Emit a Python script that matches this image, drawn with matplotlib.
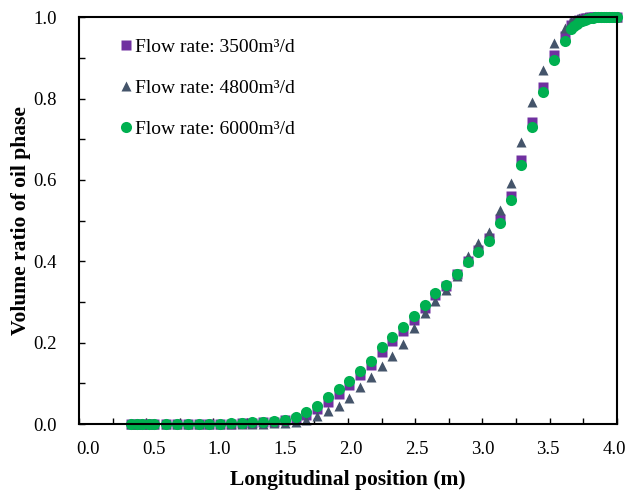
import matplotlib
matplotlib.use("Agg")
import matplotlib.pyplot as plt
from matplotlib.ticker import MultipleLocator, FormatStrFormatter
from matplotlib.transforms import ScaledTranslation

plt.rcParams['font.family'] = ['Liberation Serif', 'DejaVu Serif']

# Posição longitudinal (m)
posicao = [0.39, 0.43, 0.47, 0.52, 0.56,
           0.65, 0.73, 0.81, 0.89, 0.97, 1.05, 1.13, 1.21, 1.29, 1.37,
           1.45, 1.53, 1.61, 1.69, 1.77, 1.85, 1.93, 2.01, 2.09, 2.17,
           2.25, 2.33, 2.41, 2.49, 2.57, 2.65, 2.73, 2.81, 2.89, 2.97,
           3.05, 3.13, 3.21, 3.29, 3.37, 3.45, 3.53, 3.61,
           3.66, 3.68, 3.70, 3.72, 3.74, 3.76, 3.78, 3.80, 3.82, 3.84,
           3.86, 3.88, 3.90, 3.92, 3.94, 3.96, 3.98, 4.00]

# Fração volumétrica de óleo para cada vazão
vazao_3500 = [0, 0, 0, 0, 0,
              0, 0, 0, 0, 0, 0.001, 0.001, 0.002, 0.003, 0.004,
              0.006, 0.009, 0.013, 0.022, 0.036, 0.055, 0.075, 0.097, 0.120, 0.146,
              0.178, 0.204, 0.229, 0.257, 0.286, 0.317, 0.340, 0.369, 0.401, 0.428,
              0.457, 0.503, 0.561, 0.649, 0.743, 0.829, 0.907, 0.955,
              0.982, 0.987, 0.991, 0.994, 0.996, 0.998, 0.999, 1.0, 1.0, 1.0,
              1.0, 1.0, 1.0, 1.0, 1.0, 1.0, 1.0, 1.0]
vazao_4800 = [0, 0, 0, 0, 0,
              0, 0, 0, 0, 0, 0, 0, 0.001, 0.001, 0.001,
              0.002, 0.003, 0.005, 0.010, 0.020, 0.032, 0.045, 0.064, 0.090, 0.116,
              0.142, 0.168, 0.197, 0.236, 0.272, 0.303, 0.329, 0.365, 0.413, 0.445,
              0.473, 0.526, 0.592, 0.693, 0.791, 0.870, 0.936, 0.973,
              0.990, 0.994, 0.996, 0.998, 0.999, 1.0, 1.0, 1.0, 1.0, 1.0,
              1.0, 1.0, 1.0, 1.0, 1.0, 1.0, 1.0, 1.0]
vazao_6000 = [0, 0, 0, 0, 0,
              0, 0, 0, 0, 0.001, 0.001, 0.002, 0.003, 0.004, 0.006,
              0.008, 0.011, 0.017, 0.029, 0.044, 0.066, 0.086, 0.106, 0.130, 0.155,
              0.189, 0.214, 0.238, 0.265, 0.292, 0.322, 0.342, 0.369, 0.398, 0.423,
              0.450, 0.494, 0.550, 0.636, 0.730, 0.816, 0.894, 0.941,
              0.972, 0.979, 0.984, 0.988, 0.991, 0.994, 0.996, 0.998, 0.999, 1.0,
              1.0, 1.0, 1.0, 1.0, 1.0, 1.0, 1.0, 1.0]

fig = plt.figure(figsize=(6.27, 4.92), dpi=100)
ax = fig.add_axes([0.126, 0.138, 0.858, 0.827])

ax.plot(posicao, vazao_3500, 's', color='#7030A0', ms=7.2, mec='none',
        clip_on=False, label='Flow rate: 3500m³/d')
ax.plot(posicao, vazao_4800, '^', color='#44546A', ms=7.5, mec='none',
        clip_on=False, label='Flow rate: 4800m³/d')
ax.plot(posicao, vazao_6000, 'o', color='#00B050', ms=8, mec='none',
        clip_on=False, label='Flow rate: 6000m³/d')

ax.set_xlim(0, 4.0)
ax.set_ylim(0, 1.0)
ax.xaxis.set_major_locator(MultipleLocator(0.5))
ax.xaxis.set_minor_locator(MultipleLocator(0.25))
ax.yaxis.set_major_locator(MultipleLocator(0.2))
ax.yaxis.set_minor_locator(MultipleLocator(0.1))
ax.xaxis.set_major_formatter(FormatStrFormatter('%.1f'))
ax.yaxis.set_major_formatter(FormatStrFormatter('%.1f'))

ax.tick_params(which='both', direction='in', length=4.5, width=1.0,
               top=False, right=False, labelsize=13.5)
ax.tick_params(axis='x', pad=12)
ax.tick_params(axis='y', pad=16)
for lado in ax.spines.values():
    lado.set_linewidth(1.5)

# rótulos do eixo x levemente comprimidos para dentro (0.0 à direita, 4.0 à esquerda)
valores_x = ax.get_xticks()
for v, tick in zip(valores_x, ax.xaxis.get_major_ticks(len(valores_x))):
    dx = (9 - 3 * v) / 100
    tick.label1.set_transform(tick.label1.get_transform()
                              + ScaledTranslation(dx, 0, fig.dpi_scale_trans))

ax.set_xlabel('Longitudinal position (m)', fontsize=15.5, fontweight='bold', labelpad=9)
ax.set_ylabel('Volume ratio of oil phase', fontsize=15.5, fontweight='bold', labelpad=2)

ax.legend(loc='upper left', bbox_to_anchor=(0.076, 0.948), frameon=False,
          fontsize=14, handlelength=0.6, handletextpad=0.2,
          labelspacing=1.2, borderaxespad=0, borderpad=0)

fig.savefig('out.png', dpi=100)
plt.close()
